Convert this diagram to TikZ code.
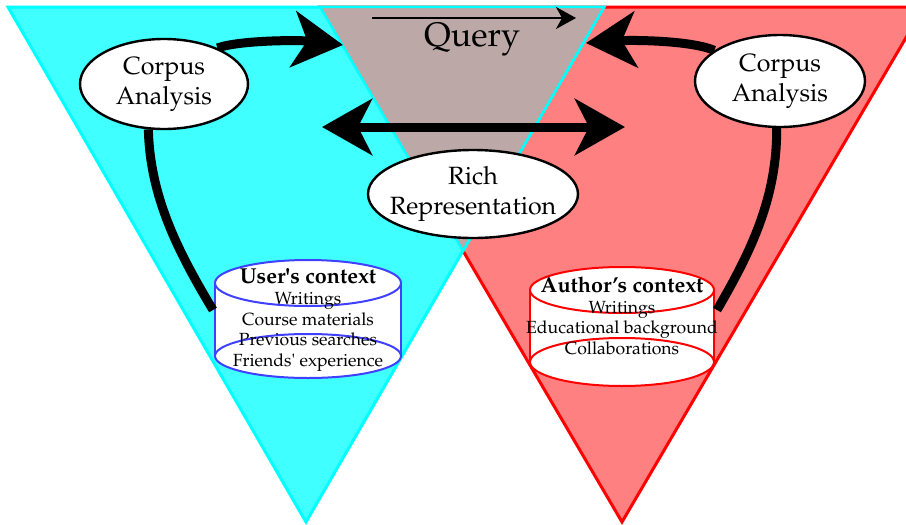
\documentclass[tikz,border=0pt]{standalone}
\usepackage[T1]{fontenc}
\usepackage{mathpazo}
\usepackage{tikz}
\usetikzlibrary{arrows.meta,shapes.geometric}
\definecolor{userCyan}{RGB}{64,255,255}
\definecolor{userEdge}{RGB}{0,255,255}
\definecolor{authorRed}{RGB}{255,128,128}
\definecolor{authorEdge}{RGB}{255,0,0}
\definecolor{queryBrown}{RGB}{188,168,166}
\definecolor{ctxBlue}{RGB}{64,64,255}
\pgfdeclarelayer{front}
\pgfsetlayers{main,front}
\newcommand{\ctxtitle}{\bfseries\fontsize{10.8}{10.3}\selectfont}
\tikzset{
  bigtip/.tip={Stealth[length=25pt,width=28pt,inset=7pt]},
  bubble/.style={ellipse, draw=black, line width=1.2pt, fill=white, inner xsep=-8pt,
    inner ysep=0pt, align=center, font=\fontsize{12.5}{15}\selectfont},
  ctxtext/.style={align=center, font=\fontsize{8.8}{10.3}\selectfont},
  flow/.style={line width=4.5pt},
}

\begin{document}
\begin{tikzpicture}[x=0.5pt,y=-0.5pt]
    \useasboundingbox (0,0) rectangle (906,525);
    \clip (0,0) rectangle (906,525);

    % corners of the two triangles
    \coordinate (cyanTL) at (8,7);
    \coordinate (cyanTR) at (604,7);
    \coordinate (cyanB) at (306,522);
    \coordinate (redTL) at (320,7);
    \coordinate (redTR) at (924,7);
    \coordinate (redB) at (622,522);

    % triangles, the shared part is the query
    \filldraw[fill=authorRed, draw=authorEdge, line width=1.5pt] (redTL) -- (redTR) -- (redB) -- cycle;
    \filldraw[fill=userCyan, draw=userEdge, line width=1.5pt] (cyanTL) -- (cyanTR) -- (cyanB) -- cycle;
    \filldraw[fill=queryBrown, draw=userEdge, line width=1.2pt]
        (redTL) -- (cyanTR) -- (intersection of redTL--redB and cyanTR--cyanB) -- cycle;

    % query
    \coordinate (qArrowS) at (372,18);
    \coordinate (qArrowE) at (576,18);
    \draw[line width=0.8pt, -{Stealth[length=10pt,width=11pt,inset=3pt]}] (qArrowS) -- (qArrowE);
    \node[font=\fontsize{17}{20}\selectfont] (query) at (472,40) {Query};
    \coordinate (queryL) at (343,45);
    \coordinate (queryR) at (586,43);

    % two-way arrow
    \coordinate (bothL) at (322,127);
    \coordinate (bothR) at (625,127);
    \draw[flow, bigtip-bigtip] (bothL) -- (bothR);

    % user's context
    \fill[white] (215,283) rectangle (401,356);
    \draw[ctxBlue, line width=1pt, fill=white] (308,356) ellipse [x radius=46.5pt, y radius=11pt];
    \draw[ctxBlue, line width=1pt] (215,283) -- (215,356) (401,283) -- (401,356);
    \draw[ctxBlue, line width=1pt, fill=white] (308,283) ellipse [x radius=46.5pt, y radius=11.5pt];
    \node[ctxtext] (userCtx) at (308,320) {{\ctxtitle User\textquotesingle s context}\\
        Writings\\Course materials\\Previous searches\\Friends\textquotesingle{} experience};
    \coordinate (userOut) at (213,310);

    % author's context
    \fill[white] (530,290) rectangle (714,362);
    \draw[authorEdge, line width=1pt, fill=white] (622,362) ellipse [x radius=46pt, y radius=12pt];
    \draw[authorEdge, line width=1pt] (530,290) -- (530,362) (714,290) -- (714,362);
    \draw[authorEdge, line width=1pt, fill=white] (622,290) ellipse [x radius=46pt, y radius=11.5pt];
    \node[ctxtext] (authorCtx) at (622,316) {{\ctxtitle Author's context}\\
        Writings\\Educational background\\Collaborations};
    \coordinate (authorOut) at (717,310);

    % bubbles on top
    \begin{pgfonlayer}{front}
        \node[bubble, minimum width=84pt, minimum height=45pt] (corpusL) at (164,84) {Corpus\\Analysis};
        \node[bubble, minimum width=85pt, minimum height=46pt] (corpusR) at (780,81) {Corpus\\Analysis};
        \node[bubble, minimum width=105pt, minimum height=44pt] (rich) at (473,194) {Rich\\Representation};
    \end{pgfonlayer}

    % analysis loops
    \draw[flow] (userOut) .. controls (177,250) and (150,196) .. (corpusL.251);
    \draw[flow, -bigtip] (corpusL.34) .. controls (240,40) and (300,40) .. (queryL);
    \draw[flow] (authorOut) .. controls (752,250) and (777,197) .. (corpusR.266);
    \draw[flow, -bigtip] (corpusR.155) .. controls (690,40) and (630,40) .. (queryR);

\end{tikzpicture}
\end{document}
